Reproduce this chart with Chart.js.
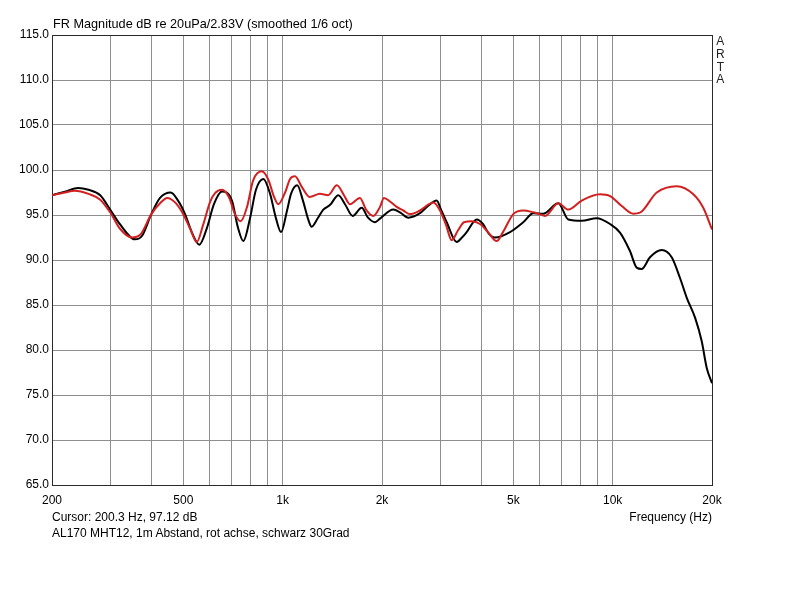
<!DOCTYPE html>
<html>
<head>
<meta charset="utf-8">
<script src="https://cdn.jsdelivr.net/npm/chart.js"></script>
<style>
    body { margin: 0; background: #fff; }
    #wrap { position: relative; width: 800px; height: 600px; font-family: "Liberation Sans", Arial, sans-serif; font-size: 12px; color: #000; }
    #wrap div.t { position: absolute; line-height: 14px; white-space: nowrap; }
</style>
</head>
<body>
<div id="wrap">
    <canvas id="frChart" width="800" height="600"></canvas>
    <div class="t" style="left:53px;top:17px;font-size:12.7px">FR Magnitude dB re 20uPa/2.83V (smoothed 1/6 oct)</div>
    <div class="t" style="left:716px;top:35px;line-height:12.8px;text-align:center;color:#222">A<br>R<br>T<br>A</div>
    <div class="t" style="left:52px;top:510px">Cursor: 200.3 Hz, 97.12 dB</div>
    <div class="t" style="right:88px;top:510px">Frequency (Hz)</div>
    <div class="t" style="left:52px;top:526px">AL170 MHT12, 1m Abstand, rot achse, schwarz 30Grad</div>
</div>

<script>
    // black = 30 degrees, red = on axis
    const freqBlack = [200, 219, 240, 258, 280, 300, 321, 357, 375, 400, 425, 458, 482, 506, 531, 559, 590, 619, 655, 702,
        732, 760, 796, 830, 874, 916, 955, 989, 1031, 1060, 1107, 1152, 1193, 1224, 1280, 1328, 1391, 1475, 1545, 1630,
        1736, 1814, 1905, 1972, 2164, 2267, 2404, 2607, 2757, 2929, 3019, 3141, 3367, 3494, 3611, 3872, 4046, 4219, 4400, 4886,
        5360, 5748, 6165, 6844, 7337, 8055, 8946, 9819, 10526, 11283, 11826, 12246, 12975, 14081, 15098, 15998, 16770, 17770, 18610, 19280, 20000];
    const dbBlack = [97.2, 97.6, 98.0, 97.8, 97.2, 95.6, 94.0, 92.3, 92.7, 95.1, 96.9, 97.5, 96.6, 95.1, 93.05, 91.7, 93.6, 96.2, 97.6, 96.6,
        93.6, 92.1, 94.6, 97.8, 99.0, 97.35, 94.6, 93.1, 95.5, 97.35, 98.3, 96.6, 94.6, 93.7, 94.7, 95.6, 96.1, 97.2, 96.2, 94.9,
        95.8, 94.7, 94.2, 94.6, 95.6, 95.3, 94.7, 95.2, 96.0, 96.6, 95.6, 94.2, 92.0, 92.5, 93.1, 94.5, 94.0, 92.9, 92.5, 93.1,
        94.2, 95.2, 95.15, 96.3, 94.5, 94.35, 94.65, 94.0, 93.05, 91.0, 89.15, 89.0, 90.3, 91.1, 90.3, 88.0, 85.8, 83.6, 81.0, 78.0, 76.3];

    const freqRed = [200, 219, 234, 258, 280, 300, 321, 349, 370, 400, 425, 447, 472, 496, 524, 549, 574, 602, 623, 655,
        687, 717, 746, 780, 813, 864, 903, 942, 970, 1017, 1053, 1090, 1144, 1207, 1297, 1373, 1460, 1534, 1600, 1715,
        1789, 1883, 1972, 2028, 2115, 2215, 2319, 2431, 2607, 2862, 2998, 3126, 3252, 3400, 3545, 3739, 3963, 4190, 4452, 4652,
        4999, 5360, 5748, 6000, 6238, 6844, 7337, 8055, 9156, 9819, 10653, 11546, 12104, 13597, 15632, 17558, 18816, 20000];
    const dbRed = [97.2, 97.5, 97.7, 97.35, 96.7, 95.3, 93.5, 92.5, 92.8, 95.1, 96.3, 96.9, 96.4, 95.3, 93.5, 92.0, 93.9, 96.4, 97.4, 97.8,
        97.0, 95.1, 94.3, 95.9, 98.8, 99.85, 99.0, 97.0, 96.2, 97.5, 99.0, 99.3, 98.1, 97.0, 97.35, 97.2, 98.3, 97.2, 96.2, 96.9,
        95.6, 94.9, 95.9, 96.9, 96.5, 95.9, 95.5, 95.1, 95.5, 96.4, 95.5, 93.9, 92.2, 93.3, 94.2, 94.3, 94.0, 93.1, 92.1, 93.1,
        95.1, 95.5, 95.3, 95.1, 94.9, 96.3, 95.6, 96.6, 97.3, 97.1, 96.0, 95.15, 95.26, 97.5, 98.2, 97.3, 95.8, 93.4];

    const xGrid = [200, 300, 400, 500, 600, 700, 800, 900, 1000, 2000, 3000, 4000, 5000, 6000, 7000, 8000, 9000, 10000, 20000];
    const xLabelValues = [200, 500, 1000, 2000, 5000, 10000, 20000];
    const xLabelTexts = ['200', '500', '1k', '2k', '5k', '10k', '20k'];

    const pts = (fs, ds) => fs.map((f, i) => ({ x: f, y: ds[i] }));
    const font = { family: '"Liberation Sans", Arial, sans-serif', size: 12 };
    const gridGray = '#8e8e8e', frame = '#2a2a2a';

    new Chart(document.getElementById('frChart'), {
        type: 'line',
        data: {
            datasets: [
                { label: 'rot achse', data: pts(freqRed, dbRed), borderColor: '#d21f1f', borderWidth: 2 },
                { label: 'schwarz 30Grad', data: pts(freqBlack, dbBlack), borderColor: '#000000', borderWidth: 2 }
            ]
        },
        options: {
            responsive: false,
            animation: false,
            layout: { padding: { top: 35, right: 88, left: 0, bottom: 0 } },
            elements: {
                point: { radius: 0 },
                line: { cubicInterpolationMode: 'monotone', fill: false }
            },
            plugins: { legend: { display: false }, tooltip: { enabled: false } },
            scales: {
                x: {
                    type: 'logarithmic',
                    min: 200,
                    max: 20000,
                    afterBuildTicks: s => { s.ticks = xGrid.map(v => ({ value: v })); },
                    afterFit: s => { s.height = 115; },
                    grid: {
                        color: c => (c.tick && c.tick.value === 20000 ? frame : gridGray),
                        drawTicks: false
                    },
                    border: { color: frame },
                    ticks: {
                        autoSkip: false,
                        maxRotation: 0,
                        padding: 8,
                        color: '#000',
                        font: font,
                        callback: v => {
                            const i = xLabelValues.indexOf(v);
                            return i >= 0 ? xLabelTexts[i] : '';
                        }
                    }
                },
                y: {
                    min: 65,
                    max: 115,
                    afterFit: s => { s.width = 52; },
                    grid: {
                        color: c => (c.tick && c.tick.value === 115 ? frame : gridGray),
                        drawTicks: false
                    },
                    border: { color: frame },
                    ticks: {
                        stepSize: 5,
                        padding: 3,
                        color: '#000',
                        font: font,
                        callback: v => v.toFixed(1)
                    }
                }
            }
        }
    });
</script>
</body>
</html>
